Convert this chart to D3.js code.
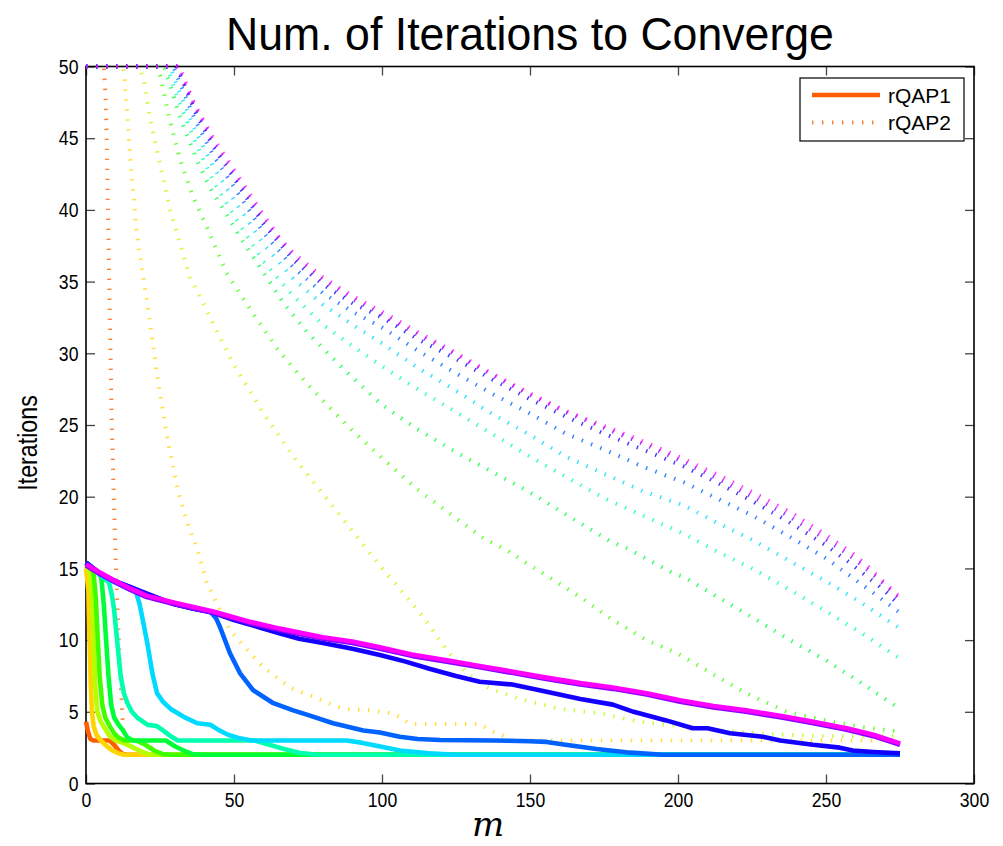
<!DOCTYPE html>
<html>
<head>
<meta charset="utf-8">
<script src="https://cdn.jsdelivr.net/npm/d3@7"></script>
<style>
  body { margin: 0; background: #fff; }
  svg { display: block; }
  .tick text { font-family: "Liberation Sans", Arial, sans-serif; font-size: 21px; fill: #000; }
</style>
</head>
<body>
<div id="chart"></div>
<script>
// m axis ticks and iteration ticks
const xTicks = [0, 50, 100, 150, 200, 250, 300];
const yTicks = [0, 5, 10, 15, 20, 25, 30, 35, 40, 45, 50];

// one colour per parameter setting (hsv sweep, orange -> magenta)
const colors = ["#FF5E00", "#FFD400", "#B4FF00", "#3EFF00", "#00FF38", "#00FFAE",
                "#00DAFF", "#0063FF", "#1300FF", "#8900FF", "#FF00FF"];

// rQAP1 : [m, iterations]
const solidOrange = [[0,4.3],[0.7,3.6],[1.5,3.1],[2.5,3.0],[8,3.0],[9.5,2.7],[11,2.3],[12.5,2.05],[14,2.0],[275,2.0]];
const solidYellow = [[0,15.0],[0.8,13.5],[1.2,10],[1.6,7],[2.0,5.0],[2.6,4.0],[3.5,3.4],[5,3.0],[7,2.6],[9,2.3],[11,2.1],[13,2.0],[275,2.0]];
const solidLime = [[0,15.2],[1.5,14.6],[2.2,12.5],[2.7,9],[3.2,6.5],[3.8,5.0],[5,4.3],[6.5,3.8],[8,3.3],[10,3.0],[13,2.8],[16,2.5],[19,2.2],[22,2.0],[275,2.0]];
const solidGreen = [[0,15.3],[2.5,14.8],[3.3,13],[4,10],[4.6,7.5],[5.5,5.5],[6.5,4.6],[8,4.0],[9.5,3.5],[11,3.2],[13,3.0],[17,3.0],[20,2.7],[23,2.3],[26,2.05],[29,2.0],[275,2.0]];
const solidGreen2 = [[0,15.3],[4,14.8],[5.2,14.3],[6,12.5],[6.8,10],[7.6,7.5],[8.5,5.5],[9.5,4.6],[11,4.1],[12.5,3.7],[14,3.2],[16,3.0],[27,3.0],[30,2.6],[33,2.3],[36,2.05],[40,2.0],[275,2.0]];
const solidTeal = [[0,15.4],[4,14.7],[7.8,14.0],[8.7,13.2],[9.5,12.1],[10.6,9.8],[11.7,7.5],[12.8,6.3],[14,5.6],[15.5,5.0],[17.3,4.6],[20.7,4.1],[24,4.0],[26,3.7],[28.6,3.3],[31,3.0],[57,3.0],[62,2.7],[67,2.4],[72,2.15],[78,2.0],[275,2.0]];
const solidSky = [[0,15.4],[5,14.5],[10,14.0],[14,13.6],[16.8,13.4],[18,12.6],[19,11.6],[20.7,9.8],[22.4,7.7],[24,6.3],[26,5.7],[28.6,5.2],[33,4.65],[37.6,4.2],[42,4.1],[45,3.7],[48,3.4],[52,3.15],[56,3.0],[88,3.0],[93,2.85],[99,2.6],[106,2.3],[116,2.1],[125,2.0],[275,2.0]];
const solidBlue = [[0,15.4],[5,14.6],[10,14.1],[15,13.7],[20.5,13.2],[26,12.8],[30,12.5],[36,12.2],[42,12.0],[44,11.5],[45.3,10.9],[48.6,9.1],[52,7.7],[56.5,6.5],[63.3,5.6],[70,5.1],[74.6,4.8],[83.5,4.2],[93.7,3.7],[99.3,3.55],[106,3.26],[112,3.1],[119.6,3.03],[138,3.0],[150,2.95],[155.6,2.9],[162,2.7],[172.5,2.4],[184,2.15],[195,2.0],[275,2.0]];
const solidIndigo = [[0,15.4],[5,14.6],[10,14.1],[15,13.7],[20,13.3],[26,12.8],[30,12.5],[36,12.2],[43,11.9],[50,11.4],[55,11.1],[65,10.5],[72,10.1],[80,9.8],[90,9.4],[99.3,8.96],[108,8.5],[116,8.0],[125,7.5],[133,7.1],[144,6.9],[155.6,6.4],[167,5.9],[178,5.5],[185,5.0],[196,4.4],[205,3.85],[210,3.85],[217.6,3.5],[228.7,3.26],[234.5,3.0],[245.6,2.7],[254.7,2.5],[259,2.3],[266,2.2],[275,2.1]];
const solidPurple = [[0,15.2],[4,14.7],[9.2,14.1],[15,13.5],[20.5,13.0],[30,12.5],[43,11.9],[55,11.2],[65.5,10.7],[80,10.1],[90,9.8],[99.3,9.4],[110,8.9],[121.9,8.5],[133,8.1],[144.3,7.7],[155,7.3],[167,6.9],[178,6.6],[189.4,6.2],[200.7,5.7],[212,5.3],[223,5.0],[235,4.6],[245.7,4.2],[257,3.75],[266,3.3],[275,2.7]];
const solidMagenta = [[0,15.3],[4,14.8],[9.2,14.2],[15,13.6],[20.5,13.1],[30,12.6],[43,12.0],[55,11.3],[65.5,10.8],[80,10.2],[90,9.9],[99.3,9.5],[110,9.0],[121.9,8.6],[133,8.2],[144.3,7.8],[155,7.4],[167,7.0],[178,6.7],[189.4,6.3],[200.7,5.8],[212,5.4],[223,5.1],[235,4.7],[245.7,4.3],[257,3.85],[266,3.4],[275,2.8]];

// rQAP2 : [m, iterations]
const dottedOrange = [[0,50],[6,50],[6.6,47.9],[7,45],[7.5,39],[8,33],[8.7,25],[9.5,19],[10.2,14.5],[11,10.5],[11.8,6.8],[12.6,3.5],[13.5,3.0],[20,3.0],[24,2.0],[275,2.0]];
const dottedYellow = [[0,50],[12.5,50],[13,49.3],[14,46.5],[14.9,43.7],[16,41.2],[17.1,38.4],[18.8,36.0],[21,33.1],[24,28.5],[27.5,24],[31,20.5],[34,18.3],[37.4,16.5],[40.8,14.0],[44.1,12.6],[48.6,10.7],[55.4,9.1],[60,8.1],[65.5,7.2],[70,6.6],[76.8,6.05],[82,5.6],[87,5.2],[96,5.1],[103,4.9],[106,4.65],[109.5,4.15],[133,4.15],[136.5,3.7],[140,3.4],[142,3.26],[144,3.0],[275,3.0]];
const dottedLime = [[0,50],[18,50],[18.5,49.7],[19.6,49],[21.8,46.2],[23.9,44.2],[28.4,40],[35.1,35.3],[39.6,33.5],[45,31.2],[50,29.2],[60,25.8],[70,22.8],[80,20.2],[90,17.6],[100.4,14.9],[107.2,13.3],[114,11.6],[121.9,9.3],[128.6,7.7],[136.5,6.6],[146.6,5.9],[160,5.2],[173.6,4.9],[187,4.3],[200.7,4.0],[215,3.7],[230,3.45],[250,3.3],[275,3.3]];
const dottedGreen = [[0,50],[24,50],[25,49.4],[28,46.5],[31.8,43.5],[36,41],[40.8,38.8],[47.5,35.6],[55.4,33.1],[65,30.2],[75,27.8],[88,25.0],[100,22.7],[112,20.5],[125,18.5],[135,17.0],[142,16.3],[150,15.2],[155.6,14.5],[167,13.0],[178,11.4],[189.4,10.0],[199.6,9.1],[212,7.6],[223,6.3],[236.7,5.0],[250,4.4],[262,3.95],[275,3.6]];
const dottedGreen2 = [[0,50],[26.5,50],[28.4,48.7],[32,46.3],[37.4,43.5],[42,41.5],[48.6,39.3],[52,38.1],[58.8,36.0],[66.7,33.5],[75,31.4],[87,28.9],[100,26.4],[112,24.7],[125,23.1],[150,20.3],[165,18.4],[177,16.9],[182.7,16.4],[190,15.6],[198,14.7],[202,14.4],[215,12.8],[225,11.6],[237,10.1],[250,8.6],[262,7.0],[275,5.2]];
const dottedTeal = [[0,50],[27.5,50],[30,48.3],[37,44.7],[43,42.0],[50,39.6],[60,36.4],[70,34.0],[80,32.0],[90,30.5],[100,29.1],[112,27.5],[125,25.9],[137,24.4],[150,22.8],[162,21.4],[175,19.9],[188,18.7],[202,17.4],[213,16.2],[225,15.0],[237,13.6],[250,12.0],[262,10.5],[275,8.7]];
const dottedSky = [[0,50],[28.5,50],[31,48.5],[37,45.5],[43,43.0],[50,40.7],[60,37.6],[70,35.2],[80,33.4],[90,32.0],[100,30.7],[112,29.0],[125,27.4],[137,25.8],[150,24.3],[162,22.8],[175,21.6],[188,20.4],[202,19.4],[213,18.2],[225,17.0],[237,15.6],[250,14.1],[262,12.6],[275,10.8]];
const dottedBlue = [[0,50],[29.5,50],[32,48.7],[37,46.2],[43,43.8],[50,41.6],[60,38.4],[70,36.0],[80,34.2],[90,32.9],[100,31.8],[112,30.2],[125,28.6],[137,27.2],[150,25.8],[162,24.4],[175,23.3],[188,22.1],[202,21.0],[213,19.9],[225,18.7],[237,17.3],[250,15.7],[262,13.9],[275,11.9]];
const dottedIndigo = [[0,50],[30.5,50],[33,48.8],[37,46.8],[43,44.4],[50,42.2],[60,39.0],[70,36.5],[80,34.8],[90,33.5],[100,32.5],[112,31.0],[125,29.6],[137,28.2],[150,26.8],[162,25.6],[175,24.4],[188,23.3],[202,22.1],[213,21.0],[225,19.7],[237,18.3],[250,16.6],[258,15.4],[264,14.4],[269,13.6],[275,12.4]];
const dottedPurple = [[0,50],[31,50],[33,48.9],[37,47.1],[43,44.7],[50,42.5],[60,39.3],[70,36.8],[80,35.1],[90,33.8],[100,32.7],[112,31.3],[125,29.9],[137,28.5],[150,27.1],[162,25.9],[175,24.8],[188,23.7],[202,22.4],[213,21.3],[225,20.0],[237,18.7],[250,17.0],[258,15.9],[264,14.9],[269,14.0],[275,12.8]];
const dottedMagenta = [[0,50],[31.5,50],[32.5,49.5],[36.8,47.3],[43,45.0],[50,42.8],[58.8,40.0],[65.5,38.0],[70,37.0],[80,35.3],[90,34.0],[100,32.9],[112.8,31.4],[125.2,30.0],[137,28.6],[150,27.2],[161.8,26.0],[174.2,25.0],[186.6,24.0],[199,22.9],[214.8,21.4],[227.1,20.1],[239,18.8],[250.2,17.3],[258.7,16.1],[264.3,15.1],[268.8,14.2],[275,13.0]];

const rqap1 = [solidOrange, solidYellow, solidLime, solidGreen, solidGreen2, solidTeal,
               solidSky, solidBlue, solidIndigo, solidPurple, solidMagenta];
const rqap2 = [dottedOrange, dottedYellow, dottedLime, dottedGreen, dottedGreen2, dottedTeal,
               dottedSky, dottedBlue, dottedIndigo, dottedPurple, dottedMagenta];

const width = 1003, height = 846;
const plot = { left: 86, right: 974, top: 66.5, bottom: 783.5 };

const svg = d3.select("#chart").append("svg")
  .attr("width", width)
  .attr("height", height);

const x = d3.scaleLinear().domain([0, 300]).range([plot.left, plot.right]);
const y = d3.scaleLinear().domain([0, 50]).range([plot.bottom, plot.top]);

// axes, ticks pointing inward like a boxed plot
svg.append("g")
  .attr("transform", `translate(0,${plot.bottom})`)
  .call(d3.axisBottom(x).tickValues(xTicks).tickSizeInner(-9).tickSizeOuter(0).tickPadding(9))
  .selectAll(".tick text").attr("transform", "scale(0.84,1)");
svg.append("g")
  .attr("transform", `translate(${plot.left},0)`)
  .call(d3.axisLeft(y).tickValues(yTicks).tickSizeInner(-9).tickSizeOuter(0).tickPadding(0))
  .selectAll(".tick text").attr("x", -9).attr("transform", "scale(0.84,1)");
svg.append("g")
  .attr("transform", `translate(0,${plot.top})`)
  .call(d3.axisTop(x).tickValues(xTicks).tickSizeInner(-9).tickSizeOuter(0).tickFormat(""));
svg.append("g")
  .attr("transform", `translate(${plot.right},0)`)
  .call(d3.axisRight(y).tickValues(yTicks).tickSizeInner(-9).tickSizeOuter(0).tickFormat(""));

svg.selectAll(".domain").remove();
svg.selectAll(".tick line").attr("stroke", "#444").attr("stroke-width", 1.3);

svg.append("rect")
  .attr("x", plot.left).attr("y", plot.top)
  .attr("width", plot.right - plot.left).attr("height", plot.bottom - plot.top)
  .attr("fill", "none").attr("stroke", "#000").attr("stroke-width", 1.6);

const line = d3.line().x(d => x(d[0])).y(d => y(d[1]));

// rQAP1 solid then rQAP2 dotted, one colour at a time
const lines = svg.append("g");
rqap1.forEach((s, i) => {
  lines.append("path")
    .attr("d", line(s))
    .attr("fill", "none")
    .attr("stroke", colors[i])
    .attr("stroke-width", 4.6)
    .attr("stroke-linejoin", "round");
  lines.append("path")
    .attr("d", line(rqap2[i]))
    .attr("fill", "none")
    .attr("stroke", colors[i])
    .attr("stroke-opacity", 0.8)
    .attr("stroke-width", 4)
    .attr("stroke-dasharray", "1.4 8.6");
});

// title and axis labels
const titleX = (plot.left + plot.right) / 2;
const titleSqueeze = 0.95;
svg.append("text")
  .attr("x", titleX)
  .attr("y", 50)
  .attr("text-anchor", "middle")
  .style("font-family", "'Liberation Sans', Arial, sans-serif")
  .style("font-size", "47px")
  .attr("transform", `translate(${titleX * (1 - titleSqueeze)},0) scale(${titleSqueeze},1)`)
  .text("Num. of Iterations to Converge");

svg.append("text")
  .attr("transform", `translate(37,${(plot.top + plot.bottom) / 2 + 18}) rotate(-90) scale(0.86,1)`)
  .attr("text-anchor", "middle")
  .style("font-family", "'Liberation Sans', Arial, sans-serif")
  .style("font-size", "27px")
  .text("Iterations");

svg.append("text")
  .attr("x", 488)
  .attr("y", 836)
  .attr("text-anchor", "middle")
  .style("font-family", "'DejaVu Serif', serif")
  .style("font-style", "italic")
  .style("font-size", "34px")
  .text("m");

// legend
const legend = svg.append("g").attr("transform", "translate(800,78)");
legend.append("rect")
  .attr("width", 164).attr("height", 63)
  .attr("fill", "#fff").attr("stroke", "#000").attr("stroke-width", 1.2);
const legendItems = ["rQAP1", "rQAP2"];
legendItems.forEach((name, i) => {
  const ly = 17 + i * 27.5;
  legend.append("line")
    .attr("x1", 12).attr("x2", 80).attr("y1", ly).attr("y2", ly)
    .attr("stroke", colors[0])
    .attr("stroke-width", i === 0 ? 4.6 : 4)
    .attr("stroke-opacity", i === 0 ? 1 : 0.8)
    .attr("stroke-dasharray", i === 0 ? null : "1.4 8.6");
  legend.append("text")
    .attr("x", 88).attr("y", ly + 7.5)
    .style("font-family", "'Liberation Sans', Arial, sans-serif")
    .style("font-size", "21px")
    .text(name);
});
</script>
</body>
</html>
